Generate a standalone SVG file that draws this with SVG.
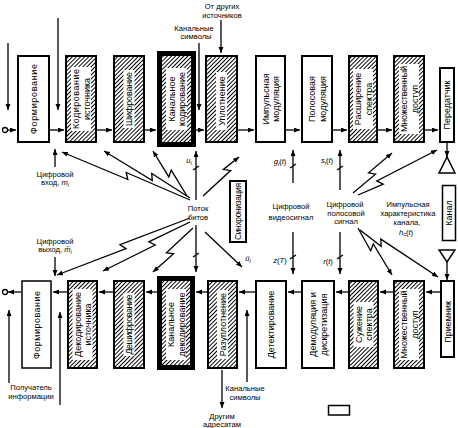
<svg xmlns="http://www.w3.org/2000/svg" width="458" height="428" viewBox="0 0 458 428">
<style>
.box{fill:#fff;stroke:#000;stroke-width:2}
.hb{fill:url(#hatch);stroke:#000;stroke-width:2}
.th{fill:url(#hatch);stroke:#000;stroke-width:5}
.wb{fill:#fff;stroke:none}
.bt{font-family:"Liberation Sans",Arial,sans-serif;font-size:9px;text-anchor:middle;fill:#000}
.lt{font-family:"Liberation Sans",Arial,sans-serif;font-size:7.6px;text-anchor:middle;fill:#000}
.it{font-style:italic}
.ln{fill:none;stroke:#000;stroke-width:1.3}
.ar{marker-end:url(#ah)}
</style>
<defs>
<pattern id="hatch" patternUnits="userSpaceOnUse" width="2.9" height="2.9" patternTransform="rotate(45)">
<rect width="2.9" height="2.9" fill="#fff"/>
<line x1="1.45" y1="0" x2="1.45" y2="2.9" stroke="#000" stroke-width="1"/>
</pattern>
<marker id="ah" markerUnits="userSpaceOnUse" markerWidth="7" markerHeight="6" refX="6" refY="2.5" orient="auto">
<path d="M0,0 L6,2.5 L0,5 z" fill="#000"/>
</marker>
</defs>
<rect width="458" height="428" fill="#fff"/>

<!-- Transmitter row -->
<g id="t-format"><rect class="box" x="18" y="56" width="31" height="86"/>
<g transform="translate(33.5,99) rotate(-90)"><text class="bt" y="3.3" textLength="70">Формирование</text></g></g>
<g id="t-srccode"><rect class="hb" x="66" y="56" width="30" height="86"/><rect class="wb" x="71" y="67" width="20" height="64"/>
<g transform="translate(81,99) rotate(-90)"><text class="bt" y="-1.6" textLength="60">Кодирование</text><text class="bt" y="8.6">источника</text></g></g>
<g id="t-encrypt"><rect class="hb" x="114" y="56" width="30" height="86"/><rect class="wb" x="123.5" y="70" width="11" height="58"/>
<g transform="translate(129,99) rotate(-90)"><text class="bt" y="3.3" textLength="54">Шифрование</text></g></g>
<g id="t-chcode"><rect class="th" x="159.5" y="53.5" width="34" height="91"/><rect class="wb" x="166" y="68" width="21" height="62"/>
<g transform="translate(176.5,99) rotate(-90)"><text class="bt" y="-1.6">Канальное</text><text class="bt" y="8.6">кодирование</text></g></g>
<g id="t-mux"><rect class="hb" x="206" y="56" width="31" height="86"/><rect class="wb" x="216" y="72" width="11" height="58"/>
<g transform="translate(221.5,101) rotate(-90)"><text class="bt" y="3.3">Уплотнение</text></g></g>
<g id="t-pulse"><rect class="box" x="256" y="56" width="29" height="86"/>
<g transform="translate(270.5,99) rotate(-90)"><text class="bt" y="-1.6">Импульсная</text><text class="bt" y="8.6">модуляция</text></g></g>
<g id="t-band"><rect class="box" x="302" y="56" width="30" height="86"/>
<g transform="translate(317,99) rotate(-90)"><text class="bt" y="-1.6">Полосовая</text><text class="bt" y="8.6">модуляция</text></g></g>
<g id="t-spread"><rect class="hb" x="349" y="56" width="28" height="86"/><rect class="wb" x="353" y="69" width="20" height="60"/>
<g transform="translate(363,99) rotate(-90)"><text class="bt" y="-1.6">Расширение</text><text class="bt" y="8.6">спектра</text></g></g>
<g id="t-access"><rect class="hb" x="394" y="56" width="30" height="86"/><rect class="wb" x="399" y="64" width="20" height="70"/>
<g transform="translate(409,99) rotate(-90)"><text class="bt" y="-1.6" textLength="66">Множественный</text><text class="bt" y="8.6">доступ</text></g></g>
<g id="t-tx"><rect class="box" x="440" y="68" width="14" height="74"/>
<g transform="translate(447,105) rotate(-90)"><text class="bt" y="3.3">Передатчик</text></g></g>

<!-- Receiver row -->
<g id="r-format"><rect class="box" x="22" y="281" width="29" height="87" style="stroke-width:1.5"/>
<g transform="translate(36.5,325) rotate(-90)"><text class="bt" y="3.3" textLength="68">Формирование</text></g></g>
<g id="r-srcdec"><rect class="hb" x="68" y="281" width="29" height="87"/><rect class="wb" x="72.5" y="289" width="20" height="71"/>
<g transform="translate(82.5,324.5) rotate(-90)"><text class="bt" y="-1.6">Декодирование</text><text class="bt" y="8.6">источника</text></g></g>
<g id="r-decrypt"><rect class="hb" x="114" y="281" width="30" height="87"/><rect class="wb" x="123.5" y="293" width="11" height="63"/>
<g transform="translate(129,324.5) rotate(-90)"><text class="bt" y="3.3" textLength="60">Дешифрование</text></g></g>
<g id="r-chdec"><rect class="th" x="159.5" y="278.5" width="33" height="89"/><rect class="wb" x="166" y="289" width="20" height="71"/>
<g transform="translate(176,324.5) rotate(-90)"><text class="bt" y="-1.6">Канальное</text><text class="bt" y="8.6">декодирование</text></g></g>
<g id="r-demux"><rect class="hb" x="208" y="281" width="29" height="87"/><rect class="wb" x="217" y="290" width="11" height="69"/>
<g transform="translate(222.5,324.5) rotate(-90)"><text class="bt" y="3.3">Разуплотнение</text></g></g>
<g id="r-detect"><rect class="box" x="256" y="281" width="30" height="87"/>
<g transform="translate(271,324.5) rotate(-90)"><text class="bt" y="3.3">Детектирование</text></g></g>
<g id="r-demod"><rect class="box" x="302" y="281" width="32" height="87"/>
<g transform="translate(318,324.5) rotate(-90)"><text class="bt" y="-1.6">Демодуляция и</text><text class="bt" y="8.6">дискретизация</text></g></g>
<g id="r-despread"><rect class="hb" x="349" y="281" width="29" height="87"/><rect class="wb" x="353.5" y="302" width="20" height="45"/>
<g transform="translate(363.5,324.5) rotate(-90)"><text class="bt" y="-1.6">Сужение</text><text class="bt" y="8.6">спектра</text></g></g>
<g id="r-access"><rect class="hb" x="394" y="281" width="30" height="87"/><rect class="wb" x="399" y="289" width="20" height="71"/>
<g transform="translate(409,324.5) rotate(-90)"><text class="bt" y="-1.6" textLength="68">Множественный</text><text class="bt" y="8.6">доступ</text></g></g>
<g id="r-rx"><rect class="box" x="441" y="281" width="13" height="76"/>
<g transform="translate(447.5,322) rotate(-90)"><text class="bt" y="3.3">Приемник</text></g></g>

<!-- Channel and sync -->
<g id="channel"><rect x="442.5" y="185.5" width="13" height="55" fill="#fff" stroke="#000" stroke-width="1.5"/>
<g transform="translate(449,213) rotate(-90)"><text class="bt" y="3.3">Канал</text></g></g>
<g id="sync"><rect x="230" y="181" width="16" height="61" fill="#fff" stroke="#000" stroke-width="2"/>
<g transform="translate(238,211.5) rotate(-90)"><text class="bt" y="3.1" style="font-size:8.5px" textLength="57">Синхронизация</text></g></g>
<g id="tx-antenna"><polygon points="447,157 439,173 455,173" fill="none" stroke="#000" stroke-width="1.5"/></g>
<g id="rx-antenna"><polygon points="439,250 455,250 447,262" fill="none" stroke="#000" stroke-width="1.5"/></g>
<g id="legend"><rect x="328.5" y="405.5" width="21" height="9.5" fill="none" stroke="#000" stroke-width="1.5"/></g>

<g id="connectors">
<circle cx="5" cy="130" r="2.5" fill="#fff" stroke="#000" stroke-width="1.3"/>
<circle cx="5" cy="292" r="2.5" fill="#fff" stroke="#000" stroke-width="1.3"/>
<path class="ln ar" d="M7.5,130 H16"/>
<path class="ln ar" d="M50,130 H64"/>
<path class="ln ar" d="M97,130 H112"/>
<path class="ln ar" d="M145,130 H156"/>
<path class="ln ar" d="M196,130 H204"/>
<path class="ln ar" d="M238,130 H254"/>
<path class="ln ar" d="M286,130 H300"/>
<path class="ln ar" d="M333,130 H347"/>
<path class="ln ar" d="M378,130 H392"/>
<path class="ln ar" d="M425,130 H438"/>
<path class="ln ar" d="M440,292 H426"/>
<path class="ln ar" d="M393,292 H380"/>
<path class="ln ar" d="M348,292 H336"/>
<path class="ln ar" d="M301,292 H288"/>
<path class="ln ar" d="M255,292 H239"/>
<path class="ln ar" d="M207,292 H196"/>
<path class="ln ar" d="M157,292 H146"/>
<path class="ln ar" d="M113,292 H99"/>
<path class="ln ar" d="M67,292 H53"/>
<path class="ln ar" d="M21,292 H8"/>
<path class="ln ar" d="M447,143 V157"/>
<path class="ln ar" d="M447,262 V280"/>
<path class="ln ar" d="M8,43 V110"/>
<path class="ln ar" d="M58,18 V110"/>
<path class="ln ar" d="M199,43 V110"/>
<path class="ln ar" d="M221,20 V53"/>
<path class="ln ar" d="M55,167 V149"/>
<path class="ln ar" d="M55,257 V276"/>
<path class="ln ar" d="M9,383 V310"/>
<path class="ln ar" d="M60,405 V312"/>
<path class="ln ar" d="M247,382 V310"/>
<path class="ln ar" d="M222,370 V408"/>
<path class="ln ar" d="M190,200 L126.2,172.5 L127.8,179.5 L62,152"/>
<path class="ln ar" d="M190,198 L151.7,173.4 L152.3,180.6 L104,151"/>
<path class="ln ar" d="M187,196 L171.2,170.1 L168.8,176.9 L153,151"/>
<path class="ln ar" d="M196,200 L196,168 L199,166 L193,170 L196,168 L196,151"/>
<path class="ln ar" d="M203,196 L230.6,170.6 L223.4,169.4 L239,157"/>
<path class="ln ar" d="M190,218 L120,244.7 L126,248.7 L57,275"/>
<path class="ln ar" d="M190,222 L148.8,241.8 L155.2,245 L103,271"/>
<path class="ln ar" d="M193,228 L166.4,252.8 L173.6,253.8 L153,272"/>
<path class="ln ar" d="M196,225 L196,255 L193,257 L199,253 L196,255 L196,272"/>
<path class="ln ar" d="M205,232 L242,267"/>
<path class="ln ar" d="M293,183 L293,166 L296,164 L290,168 L293,166 L293,150"/>
<path class="ln ar" d="M293,232 L293,257 L290,259 L296,255 L293,257 L293,274"/>
<path class="ln ar" d="M340,190 L340,168 L343,166 L337,170 L340,168 L340,150"/>
<path class="ln ar" d="M340,232 L340,257 L337,259 L343,255 L340,257 L340,274"/>
<path class="ln ar" d="M353,193 L375.5,174.2 L368.5,172.8 L392,153"/>
<path class="ln ar" d="M358,195 L383.2,184.1 L376.8,180.9 L437,150"/>
<path class="ln ar" d="M358,228 L370.7,250.8 L373.3,244 L392,275"/>
<path class="ln ar" d="M360,230 L381.2,246.3 L380.8,239.1 L438,277"/>
</g>

<g id="labels">
<text class="lt" x="222" y="9">От других</text>
<text class="lt" x="222" y="17.5">источников</text>
<text class="lt" x="194" y="30.5">Канальные</text>
<text class="lt" x="196" y="39">символы</text>
<text class="lt" x="55" y="176.5">Цифровой</text>
<text class="lt" x="55" y="185">вход, <tspan class="it">m</tspan><tspan class="it" dy="1.5" font-size="5.5">i</tspan></text>
<text class="lt" x="55" y="243.5">Цифровой</text>
<text class="lt" x="55" y="252">выход, <tspan class="it">m̂</tspan><tspan class="it" dy="1.5" font-size="5.5">i</tspan></text>
<text class="lt" x="198" y="211">Поток</text>
<text class="lt" x="198" y="220">битов</text>
<text class="lt" x="291" y="209">Цифровой</text>
<text class="lt" x="291" y="220">видеосигнал</text>
<text class="lt" x="345" y="207">Цифровой</text>
<text class="lt" x="346" y="215.5">полосовой</text>
<text class="lt" x="346" y="224">сигнал</text>
<text class="lt" x="408" y="207">Импульсная</text>
<text class="lt" x="408" y="216">характеристика</text>
<text class="lt" x="407" y="225">канала,</text>
<text class="lt" x="406" y="234.5"><tspan class="it">h</tspan><tspan dy="1.5" font-size="5.5">c</tspan><tspan dy="-1.5">(</tspan><tspan class="it">t</tspan>)</text>
<text class="lt" x="31" y="390">Получатель</text>
<text class="lt" x="31" y="398.5">информации</text>
<text class="lt" x="245" y="391">Канальные</text>
<text class="lt" x="245" y="399.5">символы</text>
<text class="lt" x="222" y="418.5">Другим</text>
<text class="lt" x="222" y="427">адресатам</text>
<text class="lt it" x="189" y="163">u<tspan dy="1.5" font-size="5.5">i</tspan></text>
<text class="lt it" x="280" y="164">g<tspan dy="1.5" font-size="5.5">i</tspan><tspan dy="-1.5" style="font-style:normal">(</tspan>t<tspan style="font-style:normal">)</tspan></text>
<text class="lt it" x="327" y="163">s<tspan dy="1.5" font-size="5.5">i</tspan><tspan dy="-1.5" style="font-style:normal">(</tspan>t<tspan style="font-style:normal">)</tspan></text>
<text class="lt it" x="248" y="261">û<tspan dy="1.5" font-size="5.5">i</tspan></text>
<text class="lt it" x="280" y="263">z<tspan style="font-style:normal">(</tspan>T<tspan style="font-style:normal">)</tspan></text>
<text class="lt it" x="328" y="264">r<tspan style="font-style:normal">(</tspan>t<tspan style="font-style:normal">)</tspan></text>
</g>
</svg>
